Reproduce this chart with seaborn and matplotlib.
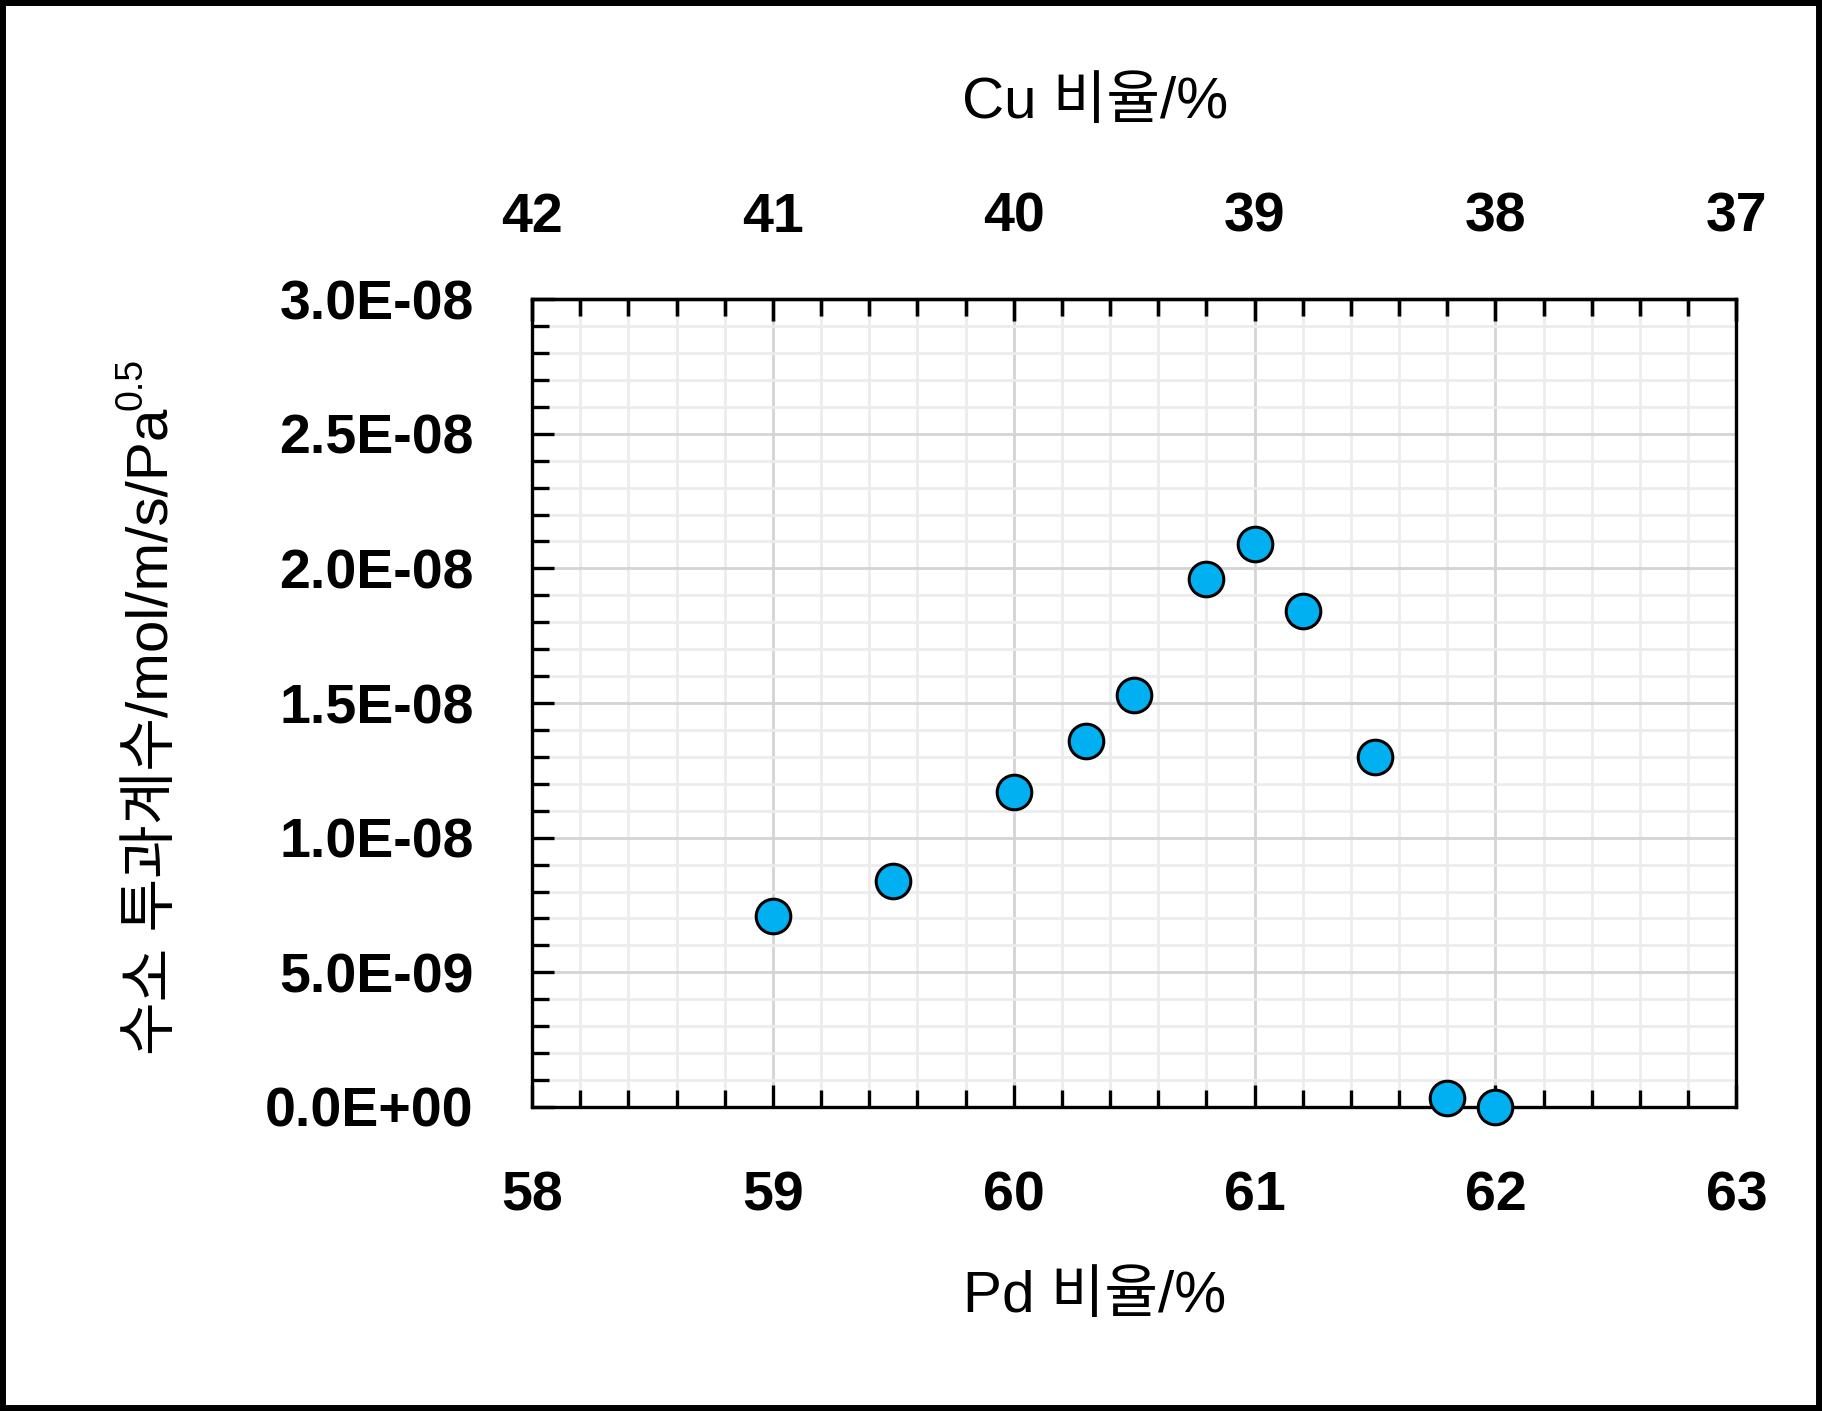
import numpy as np
import pandas as pd
import matplotlib
matplotlib.use('Agg')
import matplotlib.pyplot as plt
import seaborn as sns
from matplotlib.ticker import MultipleLocator, FuncFormatter
from matplotlib.patches import Rectangle

# Data
pd_ratio = [59.0, 59.5, 60.0, 60.3, 60.5, 60.8, 61.0, 61.2, 61.5, 61.8, 62.0]
permeability = [7.1e-9, 8.4e-9, 1.17e-8, 1.36e-8, 1.53e-8, 1.96e-8, 2.09e-8,
                1.84e-8, 1.30e-8, 3.4e-10, 0.0]
cu_ticks = [42, 41, 40, 39, 38, 37]

xlabel = 'Pd 비율/%'
toplabel = 'Cu 비율/%'
ylabel = '수소 투과계수/mol/m/s/Pa'
ylabel_sup = '0.5'

df = pd.DataFrame({'pd': pd_ratio, 'perm': permeability})

sns.set_style('white')
plt.rcParams['font.family'] = ['Liberation Sans', 'Noto Sans CJK KR', 'DejaVu Sans']
plt.rcParams['text.color'] = 'black'
plt.rcParams['xtick.color'] = 'black'
plt.rcParams['ytick.color'] = 'black'
plt.rcParams['xtick.labelcolor'] = 'black'
plt.rcParams['ytick.labelcolor'] = 'black'

fig = plt.figure(figsize=(18.22, 14.11), dpi=100)
ax = fig.add_axes([0.292, 0.2155, 0.661, 0.5725])

# grid
ax.xaxis.set_major_locator(MultipleLocator(1))
ax.xaxis.set_minor_locator(MultipleLocator(0.2))
ax.yaxis.set_major_locator(MultipleLocator(5e-9))
ax.yaxis.set_minor_locator(MultipleLocator(1e-9))
ax.grid(which='minor', color='#ececec', linewidth=2.0, zorder=0)
ax.grid(which='major', color='#d4d4d4', linewidth=2.0, zorder=0)
ax.set_axisbelow(True)

sns.scatterplot(data=df, x='pd', y='perm', ax=ax, s=620, color='#00b0f0',
                edgecolor='black', linewidth=2.2, zorder=5, clip_on=False,
                legend=False)

ax.set_xlim(58, 63)
ax.set_ylim(0, 3e-8)
ax.set_xlabel('')
ax.set_ylabel('')

for s in ax.spines.values():
    s.set_linewidth(2.4)
    s.set_color('black')

ax.yaxis.set_major_formatter(FuncFormatter(lambda v, p: f'{v:.1E}'))
# top ticks drawn on the main axes too so they sit above the grid
ax.tick_params(axis='x', which='both', direction='in', top=True, bottom=True,
               labeltop=False, width=2.4, color='black', labelsize=40, pad=46)
ax.tick_params(axis='x', which='major', length=16)
ax.tick_params(axis='x', which='minor', length=12)
ax.tick_params(axis='y', which='both', direction='in', left=True, right=False,
               width=2.4, color='black', labelsize=40, pad=42)
ax.tick_params(axis='y', which='major', length=16)
ax.tick_params(axis='y', which='minor', length=12)
for lab in ax.get_xticklabels() + ax.get_yticklabels():
    lab.set_fontweight('bold')

# top Cu axis
sec = ax.secondary_xaxis('top', functions=(lambda x: 100 - x, lambda x: 100 - x))
sec.set_xticks(cu_ticks)
sec.xaxis.set_minor_locator(MultipleLocator(0.2))
sec.tick_params(axis='x', which='both', direction='in', width=2.4, color='black',
                labelsize=40, pad=40)
sec.tick_params(axis='x', which='major', length=16)
sec.tick_params(axis='x', which='minor', length=12)
sec.spines['top'].set_linewidth(2.4)
for lab in sec.get_xticklabels():
    lab.set_fontweight('bold')

# axis titles
fig.text(0.601, 0.081, xlabel, fontsize=42, ha='center', va='center')
fig.text(0.601, 0.927, toplabel, fontsize=42, ha='center', va='center')
yl = fig.text(0.084, 0.252, ylabel, fontsize=42, rotation=90, ha='center', va='bottom')

fig.canvas.draw()
bb = yl.get_window_extent().transformed(fig.transFigure.inverted())
fig.text(bb.x0 + 0.003, bb.y1 - 0.001, ylabel_sup, fontsize=27, rotation=90,
         ha='center', va='bottom')

# figure border
fig.patches.append(Rectangle((0, 0), 1, 1, transform=fig.transFigure, fill=False,
                             edgecolor='black', linewidth=8.6, zorder=10))

fig.savefig('out.png', dpi=100, facecolor='white')
